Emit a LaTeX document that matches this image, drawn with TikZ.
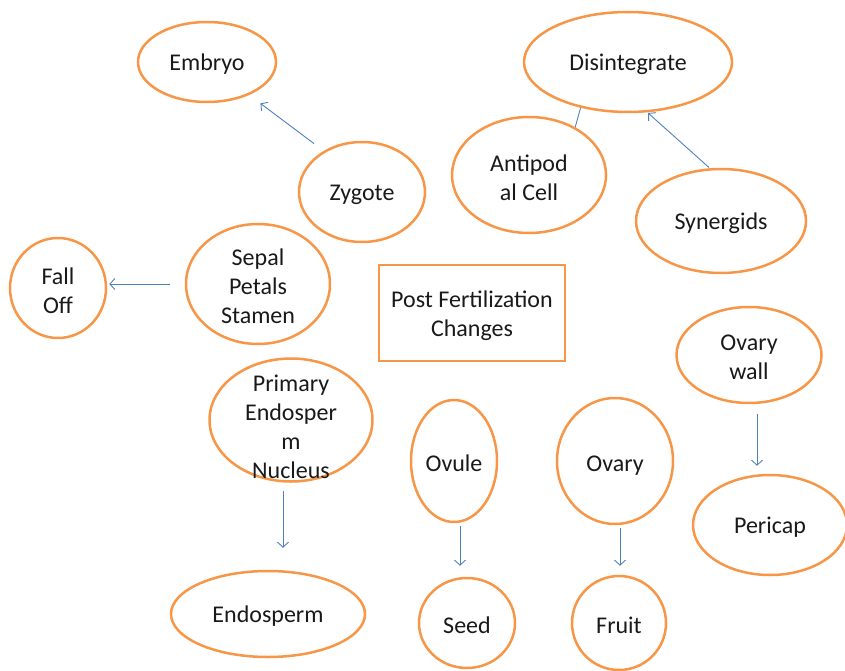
\documentclass[tikz,border=0pt]{standalone}
\usepackage{fontspec}
\setmainfont{Carlito}
\usetikzlibrary{shapes.geometric, arrows.meta}
\definecolor{rim}{HTML}{F79646}
\definecolor{wire}{HTML}{4F81BD}
\begin{document}
\begin{tikzpicture}[x=1pt,y=-1pt,
                     txt/.style={align=center,
                         font=\fontsize{24}{29}\selectfont,
                         text=black!90,
                         yshift=-2.5pt},
                     stage/.style 2 args={ellipse,
                         draw=rim,
                         line width=2.5pt,
                         inner sep=0pt,
                         minimum width=#1,
                         minimum height=#2},
                     hub/.style={rectangle,
                         draw=rim,
                         line width=2.5pt,
                         inner sep=0pt,
                         minimum width=186,
                         minimum height=96},
                     link/.style={-{Straight Barb[length=5pt,width=11pt]},
                         draw=wire,
                         line width=0.9pt}]
    \useasboundingbox (0,0) rectangle (845,671);
    \node[hub, label={[txt]center:{Post Fertilization\\Changes}}](post) at (472,313) {};
    \node[stage={138}{80}, label={[txt]center:Embryo}](emb) at (207,62) {};
    \node[stage={126}{100}, label={[txt]center:Zygote}](zyg) at (362,192) {};
    \node[stage={208}{100}, label={[txt]center:Disintegrate}](dis) at (628,62) {};
    \node[stage={154}{116}, label={[txt]center:{Antipod\\al Cell}}](anti) at (529,175) {};
    \node[stage={170}{104}, label={[txt]center:Synergids}](syn) at (721,221) {};
    \node[stage={96}{100}, label={[txt]center:{Fall\\Off}}](fall) at (58,288) {};
    \node[stage={144}{120}, label={[txt]center:{Sepal\\Petals\\Stamen}}](spl) at (258,284) {};
    \node[stage={145}{96}, label={[txt]center:{Ovary\\wall}}](wall) at (749,355) {};
    \node[stage={163}{123}, label={[txt,yshift=-4pt]center:{Primary\\Endosper\\m\\Nucleus}}](pen) at (291,420) {};
    \node[stage={86}{122}, label={[txt]center:Ovule}](ovu) at (454,461) {};
    \node[stage={116}{126}, label={[txt,yshift=-2pt]center:Ovary}](ova) at (615,461) {};
    \node[stage={154}{100}, label={[txt]center:Pericap}](peri) at (770,525) {};
    \node[stage={194}{86}, label={[txt]center:Endosperm}](endo) at (268,614) {};
    \node[stage={96}{90}, label={[txt]center:Seed}](seed) at (467,623) {};
    \node[stage={94}{94}, label={[txt]center:Fruit}](fruit) at (619,623) {};
    % slanted and side arrows
    \draw[link, shorten <=12pt, shorten >=14pt] (zyg.133) -- (emb.-38);
    \draw[link, shorten <=1pt, shorten >=1pt] (syn.102) -- (dis.-69);
    \draw[link, shorten <=15pt, shorten >=2pt] (spl.west) -- (spl.west -| fall.east);
    \draw[link, -] (anti.46) -- (dis.224);
    % downward arrows
    \foreach \u / \v / \dx / \s / \e in {pen/endo/-8pt/8pt/22pt, ovu/seed/6pt/3pt/11pt,
                                         ova/fruit/5pt/3pt/9pt, wall/peri/8pt/10pt/8pt}
        \draw[link, shorten <=\s, shorten >=\e] ([xshift=\dx]\u.south) -- ([xshift=\dx]\u.south |- \v.north);
\end{tikzpicture}
\end{document}
